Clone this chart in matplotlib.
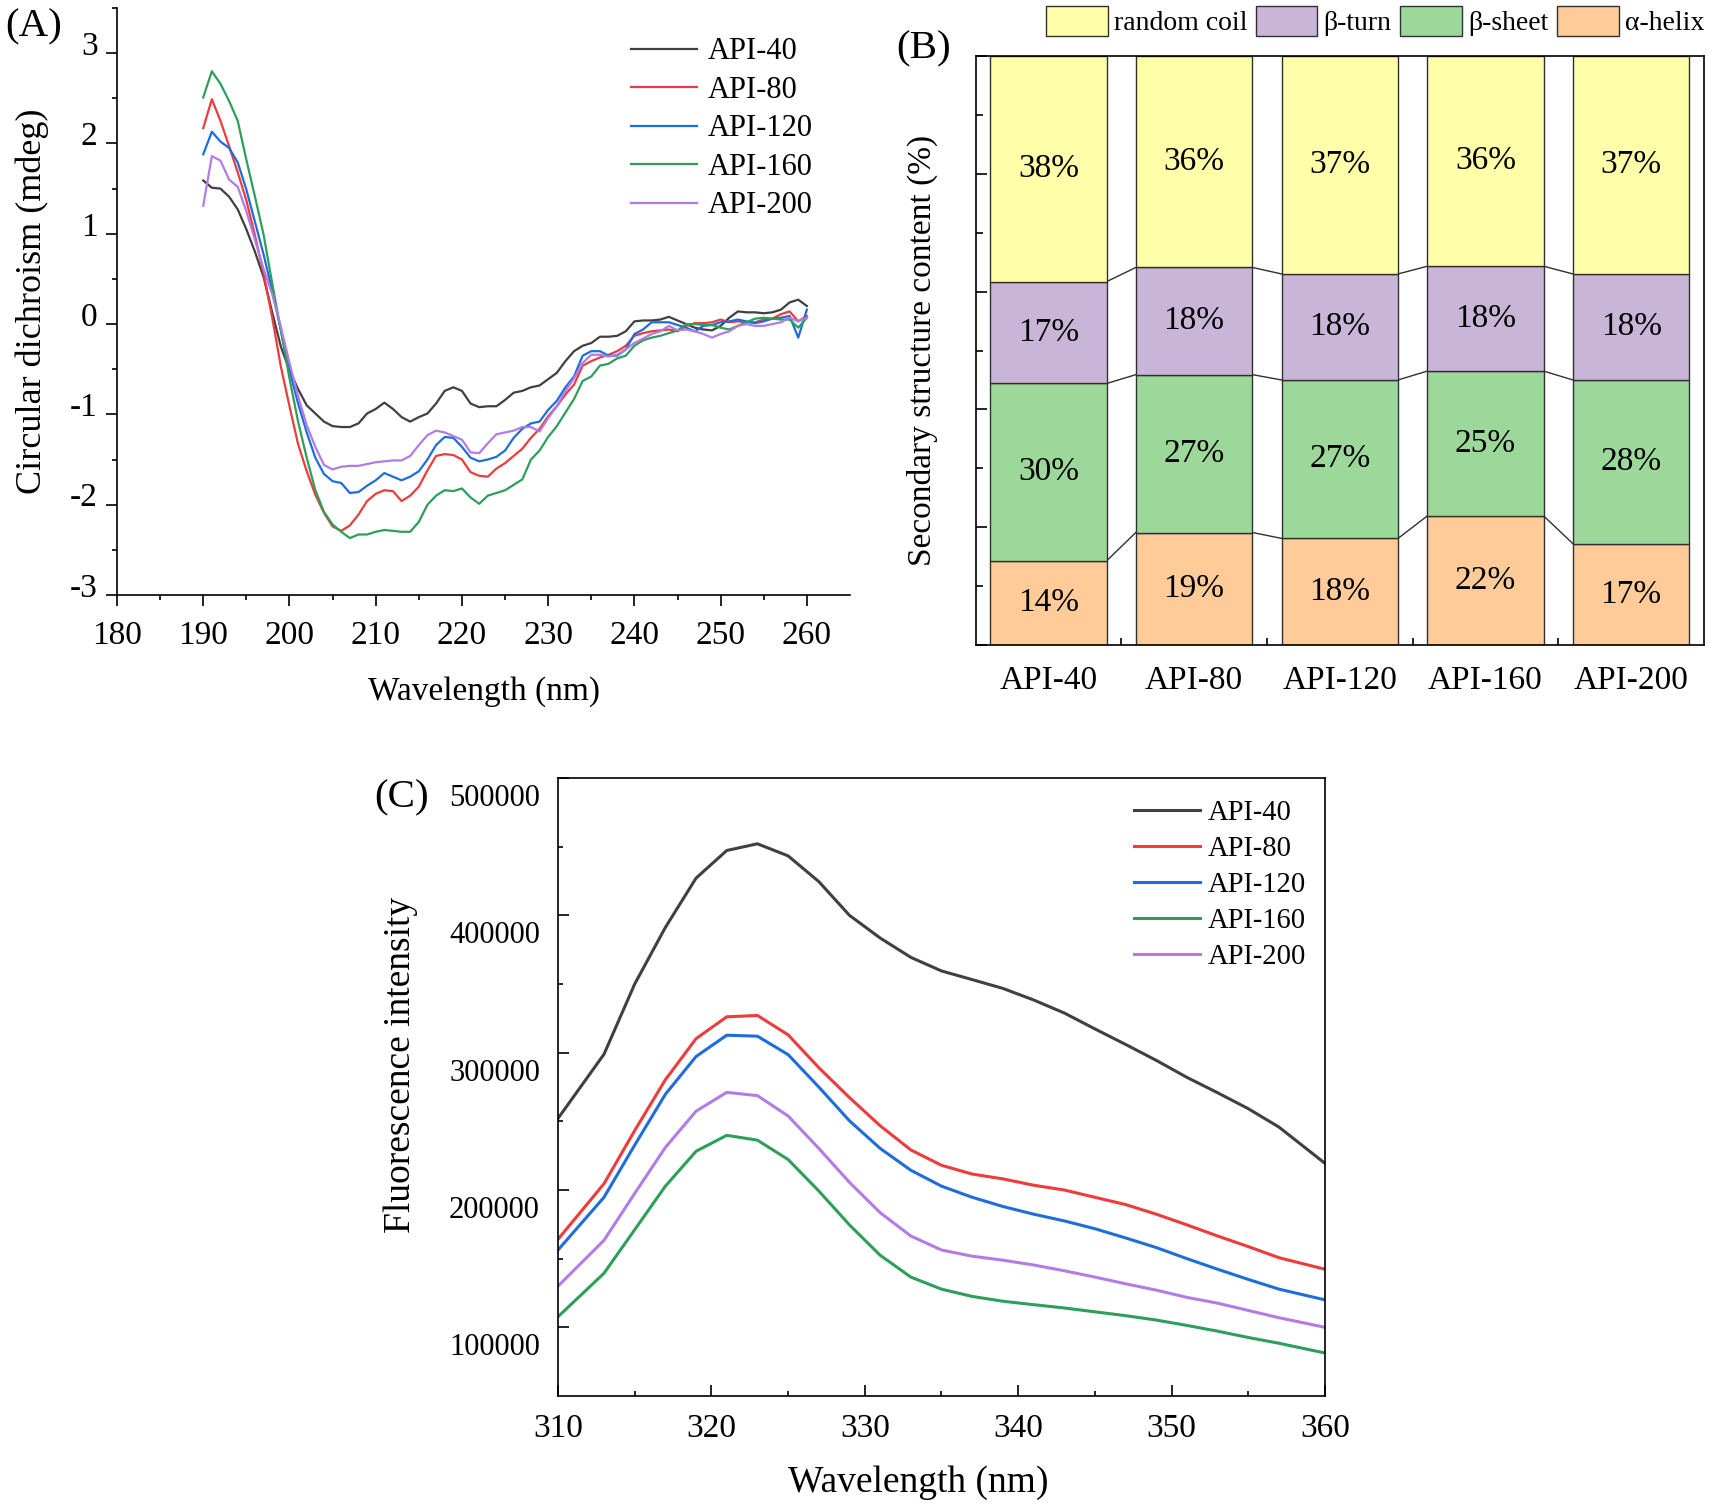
import numpy as np
import matplotlib
matplotlib.use("Agg")
import matplotlib.pyplot as plt
from matplotlib.ticker import FixedLocator, NullFormatter
from matplotlib.transforms import ScaledTranslation

plt.rcParams['font.family'] = ['Liberation Serif', 'DejaVu Serif']
plt.rcParams['axes.unicode_minus'] = False

samples = ["API-40", "API-80", "API-120", "API-160", "API-200"]
line_colors = ["#404040", "#ee3b3b", "#1f6ddb", "#2e9e5b", "#b27ce6"]

# (A) circular dichroism, 190-260 nm, 1 nm steps
cd_wavelength = np.arange(190, 261)
cd_api40 = [1.59, 1.51, 1.50, 1.41, 1.27, 1.05, 0.80, 0.52, 0.13, -0.25,
            -0.51, -0.72, -0.90, -0.99, -1.08, -1.13, -1.14, -1.14, -1.10, -0.99,
            -0.94, -0.87, -0.94, -1.03, -1.08, -1.03, -0.99, -0.88, -0.74, -0.70,
            -0.74, -0.88, -0.92, -0.91, -0.91, -0.84, -0.76, -0.74, -0.70, -0.68,
            -0.61, -0.54, -0.41, -0.30, -0.24, -0.21, -0.14, -0.14, -0.13, -0.08,
            0.03, 0.04, 0.04, 0.05, 0.08, 0.04, 0.00, -0.04, -0.06, -0.07,
            -0.02, 0.07, 0.14, 0.13, 0.13, 0.12, 0.13, 0.16, 0.24, 0.27, 0.20]
cd_api80 = [2.17, 2.49, 2.25, 1.97, 1.68, 1.37, 0.98, 0.56, 0.07, -0.47,
            -0.91, -1.33, -1.63, -1.89, -2.09, -2.24, -2.29, -2.23, -2.11, -1.96,
            -1.88, -1.84, -1.85, -1.96, -1.90, -1.80, -1.62, -1.46, -1.44, -1.45,
            -1.50, -1.64, -1.68, -1.69, -1.60, -1.54, -1.46, -1.38, -1.26, -1.16,
            -1.02, -0.91, -0.78, -0.67, -0.46, -0.41, -0.37, -0.34, -0.30, -0.24,
            -0.13, -0.10, -0.08, -0.07, -0.06, -0.08, -0.02, 0.01, 0.01, 0.02,
            0.05, 0.02, 0.03, 0.02, 0.02, 0.05, 0.06, 0.11, 0.14, 0.03, 0.09]
cd_api120 = [1.88, 2.13, 2.02, 1.95, 1.79, 1.49, 1.13, 0.77, 0.37, -0.07,
             -0.51, -0.88, -1.20, -1.48, -1.66, -1.74, -1.76, -1.87, -1.86, -1.79,
             -1.73, -1.65, -1.69, -1.73, -1.69, -1.63, -1.50, -1.34, -1.25, -1.26,
             -1.36, -1.48, -1.52, -1.50, -1.47, -1.40, -1.26, -1.16, -1.10, -1.08,
             -0.95, -0.85, -0.70, -0.58, -0.35, -0.30, -0.30, -0.35, -0.35, -0.28,
             -0.11, -0.06, 0.02, 0.02, 0.02, -0.01, -0.04, -0.08, -0.02, -0.01,
             0.02, 0.03, 0.05, 0.03, 0.01, 0.03, 0.06, 0.07, 0.09, -0.15, 0.16]
cd_api160 = [2.51, 2.80, 2.66, 2.47, 2.25, 1.82, 1.41, 0.99, 0.45, -0.07,
             -0.60, -1.08, -1.48, -1.84, -2.08, -2.22, -2.30, -2.37, -2.33, -2.33,
             -2.30, -2.28, -2.29, -2.30, -2.30, -2.19, -2.00, -1.90, -1.84, -1.85,
             -1.82, -1.92, -1.99, -1.90, -1.87, -1.84, -1.78, -1.72, -1.50, -1.40,
             -1.25, -1.13, -0.98, -0.83, -0.63, -0.58, -0.46, -0.44, -0.38, -0.35,
             -0.24, -0.18, -0.15, -0.13, -0.10, -0.07, 0.00, 0.00, -0.01, -0.01,
             -0.04, -0.06, -0.02, 0.02, 0.06, 0.07, 0.06, 0.05, 0.05, -0.04, 0.07]
cd_api200 = [1.31, 1.86, 1.81, 1.60, 1.52, 1.25, 0.93, 0.61, 0.33, -0.03,
             -0.43, -0.80, -1.12, -1.36, -1.56, -1.61, -1.58, -1.57, -1.57, -1.55,
             -1.53, -1.52, -1.51, -1.51, -1.46, -1.34, -1.23, -1.18, -1.20, -1.24,
             -1.28, -1.42, -1.43, -1.32, -1.22, -1.20, -1.18, -1.14, -1.14, -1.19,
             -1.04, -0.91, -0.74, -0.60, -0.43, -0.34, -0.34, -0.36, -0.34, -0.28,
             -0.21, -0.16, -0.11, -0.08, -0.02, -0.07, -0.06, -0.08, -0.11, -0.15,
             -0.11, -0.08, -0.02, 0.00, -0.02, -0.02, 0.00, 0.02, 0.07, 0.03, 0.07]

# (B) secondary structure content (%)
alpha_helix = [14.3, 19.1, 18.1, 21.9, 17.2]
beta_sheet = [30.1, 26.8, 26.9, 24.6, 27.8]
beta_turn = [17.3, 18.2, 18.0, 17.8, 18.0]
random_coil = [38.3, 35.9, 37.0, 35.7, 37.0]
struct_names = ["α-helix", "β-sheet", "β-turn", "random coil"]
struct_colors = ["#ffcc99", "#9dd89b", "#c8b5d8", "#ffffaa"]

# (C) fluorescence emission
fl_wavelength = [310, 313, 315, 317, 319, 321, 323, 325, 327, 329, 331, 333, 335,
                 337, 339, 341, 343, 345, 347, 349, 351, 353, 355, 357, 360]
fl_api40 = [252100, 298900, 350000, 391200, 427100, 447200, 452100, 443300, 424600,
            400000, 383500, 369400, 359500, 353200, 346800, 338400, 328900, 317300,
            306000, 294400, 282000, 270800, 259200, 245800, 219400]
fl_api80 = [164100, 204600, 243300, 280300, 310200, 326100, 327100, 313000, 289100,
            267300, 246800, 229200, 218000, 211600, 208100, 203500, 200000, 194700,
            189400, 182400, 174600, 166500, 158800, 150700, 142300]
fl_api120 = [156300, 194700, 232700, 269700, 297200, 312700, 312000, 298600, 275000,
             250400, 230300, 214400, 202800, 194700, 188000, 182400, 177500, 171800,
             165100, 158100, 150000, 142300, 134900, 127800, 120000]
fl_api160 = [107700, 139400, 171100, 202800, 228200, 239800, 236300, 222200, 199300,
             174600, 152500, 136600, 127800, 122500, 119000, 116500, 114100, 111300,
             108500, 105300, 101400, 97200, 92600, 88400, 81300]
fl_api200 = [130000, 163400, 197500, 231000, 257400, 271100, 268700, 253900, 230300,
             205600, 183500, 166500, 156300, 151800, 148900, 145400, 141200, 136600,
             131700, 127100, 121800, 117600, 112300, 107000, 100000]

W, H = 1713, 1508
fig = plt.figure(figsize=(W / 100, H / 100), dpi=100)


def px_axes(left, top, right, bottom):
    return fig.add_axes([left / W, 1 - bottom / H, (right - left) / W, (bottom - top) / H])


def shift_labels(labels, dy_px):
    off = ScaledTranslation(0, dy_px / 100, fig.dpi_scale_trans)
    for lab in labels:
        lab.set_transform(lab.get_transform() + off)


# ---------------- (A) ----------------
axA = px_axes(117, 8, 850, 595)
for y, lab, c in zip([cd_api40, cd_api80, cd_api120, cd_api160, cd_api200], samples, line_colors):
    axA.plot(cd_wavelength, y, color=c, lw=1.6, label=lab)
axA.set_xlim(180, 265)
axA.set_ylim(-3, 3.5)
axA.spines['top'].set_visible(False)
axA.spines['right'].set_visible(False)
for s in ['left', 'bottom']:
    axA.spines[s].set_linewidth(1.2)
axA.xaxis.set_major_locator(FixedLocator(np.arange(180, 261, 10)))
axA.xaxis.set_minor_locator(FixedLocator(np.arange(185, 265, 10)))
axA.yaxis.set_major_locator(FixedLocator(np.arange(-3, 3.1, 1)))
axA.yaxis.set_minor_locator(FixedLocator(np.arange(-2.5, 3.6, 1)))
axA.tick_params(which='both', direction='out', width=1.2, labelsize=24)
axA.tick_params(which='major', length=8)
axA.tick_params(which='minor', length=3.6)
axA.tick_params(axis='x', pad=10)
axA.tick_params(axis='y', pad=6)
axA.set_xlabel("Wavelength (nm)", fontsize=24)
axA.set_ylabel("Circular dichroism (mdeg)", fontsize=26)
axA.xaxis.set_label_coords(0.5, -0.139)
axA.yaxis.set_label_coords(-0.093, 0.5)
shift_labels(axA.get_yticklabels(), 10)
axA.legend(loc='upper left', bbox_to_anchor=(0.701, 0.950), frameon=False, fontsize=22,
           handlelength=2.16, handletextpad=0.36, labelspacing=0.31,
           borderpad=0, borderaxespad=0)

# ---------------- (B) ----------------
axB = px_axes(975.6, 56, 1704, 645)
pos = np.arange(len(samples))
bw = 0.8
layers = [alpha_helix, beta_sheet, beta_turn, random_coil]
bottom = np.zeros(len(samples))
for vals, name, c in zip(layers, struct_names, struct_colors):
    vals = np.array(vals)
    axB.bar(pos, vals, bw, bottom=bottom, color=c, edgecolor='#303030', lw=1.0,
            label=name, zorder=2)
    for i, (b, v) in enumerate(zip(bottom, vals)):
        axB.text(pos[i], b + v / 2, f"{v:.0f}%", ha='center', va='center', fontsize=24)
    bottom = bottom + vals
    if name != "random coil":
        for i in range(len(samples) - 1):
            axB.plot([pos[i] + bw / 2, pos[i + 1] - bw / 2], [bottom[i], bottom[i + 1]],
                     color='#303030', lw=1.0, zorder=1)
axB.set_xlim(-0.5, 4.5)
axB.set_ylim(0, 100)
for s in axB.spines.values():
    s.set_linewidth(1.2)
axB.set_xticks(pos)
axB.set_xticklabels(samples)
axB.xaxis.set_minor_locator(FixedLocator(pos[:-1] + 0.5))
axB.yaxis.set_major_locator(FixedLocator(np.arange(0, 101, 20)))
axB.yaxis.set_minor_locator(FixedLocator(np.arange(10, 100, 20)))
axB.yaxis.set_major_formatter(NullFormatter())
axB.tick_params(which='both', direction='in', width=1.2, labelsize=24)
axB.tick_params(which='major', length=8)
axB.tick_params(which='minor', length=5)
axB.tick_params(axis='x', pad=15)
axB.set_ylabel("Secondary structure content (%)", fontsize=24)
axB.yaxis.set_label_coords(-0.052, 0.5)
handles, labels = axB.get_legend_handles_labels()
order = [3, 2, 1, 0]
axB.legend([handles[i] for i in order], [labels[i] for i in order],
           loc='lower right', bbox_to_anchor=(1.0, 1.034), ncol=4, frameon=False,
           fontsize=20, handlelength=2.23, handleheight=1.3, handletextpad=0.22,
           columnspacing=0.3, borderpad=0, borderaxespad=0)

# ---------------- (C) ----------------
axC = px_axes(558, 778, 1325, 1396)
for y, lab, c in zip([fl_api40, fl_api80, fl_api120, fl_api160, fl_api200], samples, line_colors):
    axC.plot(fl_wavelength, y, color=c, lw=2.2, label=lab)
axC.set_xlim(310, 360)
axC.set_ylim(50000, 500000)
for s in axC.spines.values():
    s.set_linewidth(1.2)
axC.xaxis.set_major_locator(FixedLocator(np.arange(310, 361, 10)))
axC.xaxis.set_minor_locator(FixedLocator(np.arange(315, 360, 10)))
axC.yaxis.set_major_locator(FixedLocator(np.arange(100000, 500001, 100000)))
axC.yaxis.set_minor_locator(FixedLocator(np.arange(150000, 500000, 100000)))
axC.ticklabel_format(axis='y', style='plain', useOffset=False)
axC.tick_params(which='both', direction='in', width=1.2)
axC.tick_params(which='major', length=8)
axC.tick_params(which='minor', length=3.6)
axC.tick_params(axis='x', pad=12.5, labelsize=24)
axC.tick_params(axis='y', pad=13, labelsize=22)
axC.set_xlabel("Wavelength (nm)", fontsize=27)
axC.set_ylabel("Fluorescence intensity", fontsize=27)
axC.xaxis.set_label_coords(0.47, -0.113)
axC.yaxis.set_label_coords(-0.183, 0.536)
shift_labels(axC.get_yticklabels(), -17)
axC.legend(loc='upper left', bbox_to_anchor=(0.751, 0.965), frameon=False, fontsize=20.6,
           handlelength=2.3, handletextpad=0.28, labelspacing=0.35,
           borderpad=0, borderaxespad=0)

# panel letters
fig.text(5.5 / W, 1 - 27 / H, "(A)", fontsize=29.5, ha='left', va='center')
fig.text(896 / W, 1 - 49 / H, "(B)", fontsize=29.5, ha='left', va='center')
fig.text(374.7 / W, 1 - 797.5 / H, "(C)", fontsize=29.5, ha='left', va='center')

fig.savefig("out.png", dpi=100)
